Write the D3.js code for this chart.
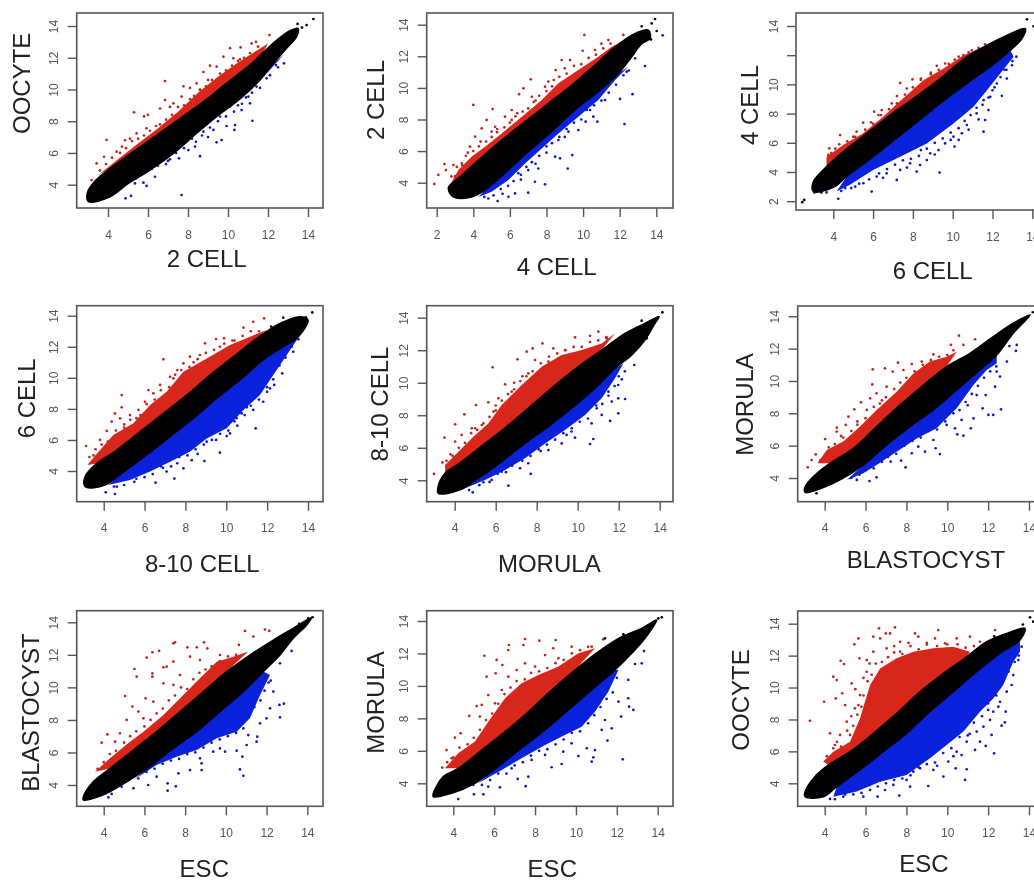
<!DOCTYPE html>
<html>
<head>
<meta charset="utf-8">
<script src="https://cdnjs.cloudflare.com/ajax/libs/d3/7.8.5/d3.min.js"></script>
<style>
html, body { margin: 0; padding: 0; background: #fff; overflow: hidden; }
svg { display: block; filter: blur(0.35px); }
text { font-family: "Liberation Sans", Arial, sans-serif; }
</style>
</head>
<body>
<div id="chart"></div>
<script>
// expression values, [x, y] on the log2 axes
// panel 1: OOCYTE vs 2 CELL
var p1BlackTop = [[2.97,3.5],[3.35,4.23],[4.1,5.03],[5.27,6.08],[6.43,7.13],[7.6,8.18],[8.77,9.23],[9.93,10.4],[11.1,11.55],[11.77,12.35],[12.43,13.1],[13.1,13.7],[13.5,13.85]];
var p1BlackBot = [[3.02,2.93],[4.1,3.24],[5.02,4.08],[6.1,4.92],[7.27,5.97],[8.43,7.24],[9.43,8.29],[10.6,9.4],[11.6,10.6],[12.27,11.65],[12.93,12.6],[13.43,13.33]];
var p1RedTop = [[3.5,4.6],[4.5,5.6],[5.5,6.6],[6.5,7.55],[7.5,8.6],[8.5,9.8],[9.5,10.8],[10.5,11.7],[11.5,12.5],[12,12.9]];
var p1BlueBot = [[6,4.8],[7,5.8],[8,6.8],[9,7.9],[10,8.9],[11,9.9],[12,11.1],[12.8,12.2]];
var p1Red = [[3.93,6.82],[5.3,8.56],[6.85,10.53],[5.8,8.3],[6,8.4],[6.4,7.7],[6.85,9.33],[6.6,8.8],[7.77,10.2],[8.77,11.1],[9.1,11.5],[10.1,12.6],[10.63,12.65],[11.18,12.9],[11.4,13],[12.07,13.43],[3.43,5.34],[3.8,5.76],[4.43,6.08],[4.85,6.8],[5.43,7.23],[5.93,7.55],[7.27,9.13],[8.43,10.39],[8.6,9.97],[9.77,12.07],[10.27,11.96],[9.43,11.44],[7.68,9.55],[3.18,4.29],[4.7,6.4],[5.1,6.9],[7.1,8.9],[8.1,10.1],[9,10.6],[10.6,11.9]];
var p1RedFuzz = [[3.6,4.9],[3.9,5.3],[4.2,5.7],[4.6,6],[4.9,6.3],[5.2,6.75],[5.5,6.9],[5.8,7.1],[6.1,7.4],[6.6,7.8],[6.9,8.1],[7.2,8.4],[7.5,8.9],[7.8,9],[8.1,9.4],[8.3,9.6],[8.6,10],[8.9,10.2],[9.2,10.6],[9.6,11],[9.9,11.2],[10.2,11.5],[10.5,11.8],[10.8,12],[11.1,12.3],[11.5,12.7]];
var p1Blue = [[7.68,3.35],[4.88,3.14],[5.15,3.29],[5.35,4.08],[5.77,4.13],[6.35,4.5],[5.93,3.92],[6.77,5.55],[7.55,5.66],[8.02,6.18],[8.6,5.8],[8.35,6.4],[9.43,6.67],[9.68,6.81],[10.35,7.76],[10.32,7.45],[11.22,8.03],[9.93,7.7],[9.27,7.45],[8.77,7.34],[7.77,6.6],[7.27,6.18],[10.68,8.7],[11.1,9.13],[11.43,10.18],[11.93,10.7],[12.4,11.54],[12.8,11.65],[11.77,10.9],[11.02,9.55],[10.1,8.92],[9.6,8.29],[6.9,5.3],[7.1,5.6],[8.4,6.7],[9,7],[10.7,9.1]];
var p1BlueFuzz = [[5.4,4.4],[5.8,4.8],[6.2,5],[6.5,5.2],[7,5.5],[7.4,6],[7.8,6.3],[8.2,6.9],[8.7,7.1],[9.1,7.6],[9.5,8],[9.9,8.3],[10.3,8.6],[10.5,9],[10.9,9.5],[11.2,9.8],[11.6,10.1],[12.1,10.9],[12.5,11.4]];
var p1Black = [[14.27,14.44],[13.48,14.13],[13.93,14.06],[13.7,13.9]];

// panel 2: 2 CELL vs 4 CELL
var p2BlackTop = [[2.64,3.7],[3.28,4.38],[4.28,5.43],[5.55,6.7],[6.83,7.86],[8.1,9.02],[9.38,10.18],[10.65,11.45],[11.75,12.6],[12.84,13.45],[13.57,13.66]];
var p2BlackBot = [[2.9,3.1],[3.9,3.1],[4.64,3.54],[5.73,4.6],[7,5.96],[8.28,7.23],[9.56,8.6],[10.83,9.76],[11.93,10.92],[12.66,11.97],[13.2,12.8],[13.66,13.13]];
var p2RedTop = [[2.73,3.85],[3.18,4.8],[3.9,5.65],[4.64,6.28],[5.55,7.12],[6.65,8.18],[7.74,9.23],[8.65,10.29],[9.74,11.13],[10.83,11.97],[11.56,12.6],[12.1,12.92]];
var p2BlueBot = [[4.28,3.1],[5,3.43],[5.92,4.17],[6.83,5.22],[7.74,6.17],[8.65,7.12],[9.74,8.18],[10.83,9.23],[11.75,10.5],[12.47,11.34]];
var p2Red = [[1.87,3.92],[2.09,4.49],[2.42,5.18],[2.5,4.8],[2.91,5.12],[3.37,5.22],[3.82,6.28],[4,8.92],[5.06,8.66],[4.73,7.97],[4.46,7.44],[4.1,6.91],[5,7.23],[5.73,8.18],[6.1,8.6],[6.5,9.6],[7.14,10.54],[6.74,9.97],[7.2,9.44],[7.92,10.08],[8.5,11.13],[8.83,11.76],[9.29,11.76],[10.07,13.35],[9.98,12.35],[10.65,12.4],[11,12.8],[11.38,13.03],[12.2,13.35],[9,11.24],[8.1,10.4],[6.1,7.97],[5.19,7.54],[3,4.4],[3.6,5.7],[4.4,6.6],[5.3,7.2],[6.4,8.4],[7.4,9.2],[8.4,10.5]];
var p2RedFuzz = [[2.8,4.4],[3.1,5],[3.4,5.1],[3.7,5.9],[4,6],[4.3,6.3],[4.7,6.6],[5,6.9],[5.3,7.4],[5.7,7.5],[6,7.8],[6.3,8.2],[6.7,8.5],[7,8.7],[7.3,9.1],[7.6,9.5],[8,9.8],[8.3,10.1],[8.7,10.7],[9.1,10.9],[9.5,11.4],[9.9,11.5],[10.3,11.9],[10.7,12.1],[11.1,12.5],[11.5,12.8]];
var p2Blue = [[5.33,2.84],[4.82,3],[5.92,3.11],[6.28,3.32],[7,3.37],[7.92,3.9],[7.37,4.06],[6.46,4.6],[7,4.8],[7.55,4.9],[8.47,5.65],[8.74,5.54],[9.16,4.9],[9.41,5.75],[8.65,6.7],[9.2,7.23],[9.74,7.33],[10.14,7.86],[10.56,8.18],[10.78,7.86],[10.38,8.6],[11.2,9.23],[12.02,9.3],[12.7,9.6],[12.26,7.71],[13.38,11.38],[12.38,11.03],[12.84,11.87],[14.35,13.33],[5.6,3.3],[6.6,4.2],[7.4,5.2],[8,5.9],[9,6.9]];
var p2BlueFuzz = [[4.6,3.1],[5.1,3.2],[5.5,3.6],[5.9,3.8],[6.2,4.1],[6.6,4.5],[6.9,5],[7.2,5.3],[7.6,5.7],[8,6.3],[8.3,6.5],[8.7,6.9],[9.1,7.4],[9.5,7.8],[9.9,8],[10.2,8.6],[10.6,8.9],[11,9.2],[11.4,9.7],[11.8,10.2],[12.2,10.8],[12.5,11.1]];
var p2Black = [[13.93,14.36],[14.02,13.6],[13.2,13.9],[13.75,14.08],[13.71,13.07],[13.5,13.6]];

// panel 3: 4 CELL vs 6 CELL
var p3BlackTop = [[3,3.34],[3.66,4.37],[4.5,5.4],[5.68,6.65],[6.85,7.9],[8.03,9.04],[9.37,10.4],[10.7,11.89],[11.89,12.8],[12.9,13.48],[13.65,13.82]];
var p3BlackBot = [[3,2.66],[4.08,3],[4.67,3.69],[5.68,4.71],[6.85,5.96],[8.03,7.22],[9.37,8.7],[10.7,10.06],[11.89,11.2],[12.9,12.34],[13.48,13.14]];
var p3RedTop = [[3.66,5.05],[4.5,5.85],[5.5,6.65],[6.5,7.79],[7.5,9.04],[8.53,10.29],[9.54,11.09],[10.54,12],[11.55,12.57]];
var p3BlueBot = [[4.17,2.66],[4.84,3.12],[6,4.14],[7.36,5.05],[8.7,5.96],[10.04,7.33],[11.05,8.47],[11.72,9.6],[12.39,10.75],[13.06,11.89]];
var p3Red = [[3.8,5.62],[4.34,6.53],[3.75,5.17],[5.17,6.76],[5.5,7.38],[6.05,8.13],[6.43,8.24],[7.36,10.1],[7.98,10.34],[6.94,8.7],[7.69,9.72],[9.2,11.27],[9.62,11.43],[10.54,12],[11.63,12.75],[10.96,12.34],[6.27,7.9],[5,6.42],[4.1,5.6],[5.9,7.4],[7.2,9.2],[8.4,10.4],[8.9,10.8],[10.1,11.7]];
var p3RedFuzz = [[3.9,5.3],[4.3,5.9],[4.7,6.1],[5.1,6.4],[5.6,6.9],[6,7.3],[6.4,7.9],[6.8,8.3],[7.2,8.7],[7.6,9.3],[8,9.8],[8.4,10.3],[8.9,10.7],[9.3,11],[9.8,11.4],[10.3,11.9],[10.8,12.2],[11.3,12.5]];
var p3Blue = [[4.25,2.16],[3.66,2.6],[5.93,2.66],[7.19,3.46],[9.34,3.96],[8.19,4.03],[8.36,4.48],[5.51,3.23],[6.18,3.69],[6.68,3.91],[7.36,4.14],[7.86,4.6],[8.7,4.82],[8.87,5.28],[9.29,5.5],[9.62,5.96],[10.09,5.74],[10.46,6.65],[10.04,6.42],[10.71,7.22],[11.55,6.76],[11.63,7.56],[11.8,8.24],[11.2,8.01],[11.55,8.92],[11.89,9.15],[12.47,9.22],[12.22,10.06],[12.72,10.4],[12.98,11.31],[4.6,2.9],[5.1,3],[6.5,3.6],[7.7,4.3],[8.3,5.1],[9.1,5.2],[9.9,6.2],[10.3,6.2],[10.8,6.9],[11.3,7.6],[12,9.6],[12.6,11],[13.2,11.9]];
var p3BlueFuzz = [[4.4,2.7],[4.9,2.9],[5.3,3.2],[5.8,3.5],[6.3,3.9],[6.7,4.2],[7.1,4.5],[7.5,4.8],[7.9,4.9],[8.4,5.5],[8.7,5.6],[9.1,6],[9.5,6.3],[9.9,6.7],[10.3,7],[10.6,7.5],[10.9,7.9],[11.2,8.4],[11.5,8.6],[11.8,9.1],[12.1,9.8],[12.4,10.5],[12.7,11],[13,11.6]];
var p3Black = [[2.54,2.09],[2.44,1.93],[13.73,14.46],[14.07,13.98],[3.05,2.6],[3.4,2.6]];

// panel 4: 6 CELL vs 8-10 CELL
var p4BlackTop = [[3.09,3.64],[3.66,4.49],[4.64,5.35],[5.78,6.53],[6.92,7.71],[8.06,8.89],[9.2,10.18],[10.35,11.36],[11.49,12.54],[12.63,13.5],[13.6,13.94]];
var p4BlackBot = [[3.09,2.99],[4.07,3.1],[5,3.96],[6.1,5.03],[7.25,6.21],[8.39,7.39],[9.53,8.68],[10.67,9.86],[11.81,11.15],[12.79,12],[13.45,12.54],[14,13.72]];
var p4RedTop = [[3.2,4.39],[3.82,5.35],[4.47,6.32],[5.45,7.07],[6.27,8.25],[7.08,9.1],[7.9,10.39],[9.04,11.25],[10.18,12.11],[11.16,12.65],[11.98,13.08]];
var p4BlueBot = [[4.23,3.1],[5.29,3.42],[6.27,3.96],[7.25,4.6],[8.22,5.24],[9.04,6.1],[10.02,6.75],[10.84,7.93],[11.65,8.89],[12.3,10.18],[12.96,11.47],[13.45,12.43]];
var p4Red = [[3.14,5.61],[4.88,8.89],[4.88,8.1],[4.55,7.71],[4.8,7.39],[4.15,6.58],[3.82,6],[4.39,7.18],[6.92,11.19],[6.19,9.21],[6.43,9],[5.7,7.93],[6.02,8.46],[7.25,10.07],[7.41,9.97],[8.22,11.36],[8.71,11.47],[8.96,12.22],[9.5,12.5],[9.89,12.54],[10.84,13.23],[11.32,13.61],[11.85,13.83],[12.38,13.29],[9.69,12],[7.9,10.93],[6.76,9.54],[5.29,7.6],[3.5,5],[5,7],[5.6,7.4],[7.6,10.5],[8.4,11],[10.4,12.4]];
var p4RedFuzz = [[3.3,4.9],[3.6,5.4],[3.9,5.7],[4.2,5.9],[4.6,6.6],[5,6.8],[5.3,7.3],[5.8,7.6],[6.1,8.3],[6.5,8.6],[6.8,9.2],[7.2,9.4],[7.5,10.2],[7.8,10.5],[8.2,10.7],[8.6,11.2],[9,11.6],[9.4,11.8],[9.9,12.2],[10.3,12.4],[10.8,12.7],[11.2,13],[11.6,13]];
var p4Blue = [[4.1,2.63],[4.55,2.52],[4.64,2.99],[6.54,3.25],[7.46,3.51],[8.93,4.64],[9.69,5.18],[7.9,4.17],[7.08,3.96],[8.31,4.7],[9.04,5.89],[10.02,6.25],[10.18,6.42],[10.54,6.92],[11.44,6.75],[9.37,6.64],[10.75,7.71],[11.32,7.93],[11.81,8.46],[12.35,9.54],[12.74,10.29],[12.14,9.32],[13.53,12.48],[13.28,11.68],[5.6,3.5],[6.9,4.2],[7.6,4.5],[8.6,5.1],[9.5,6],[10.4,7.2],[11,8.1],[12,9.1]];
var p4BlueFuzz = [[4.5,3],[5,3.1],[5.5,3.3],[6,3.6],[6.4,3.8],[6.8,4.3],[7.3,4.3],[7.7,4.9],[8.1,5],[8.5,5.4],[8.9,5.7],[9.3,6],[9.7,6.4],[10.1,6.6],[10.5,7.4],[10.9,7.6],[11.2,8.2],[11.6,8.6],[12,9.4],[12.3,9.9],[12.6,10.8],[12.9,11.3],[13.2,12]];
var p4Black = [[14.21,14.21],[12.79,13.87],[13.9,13.9],[12.2,13.3]];

// panel 5: 8-10 CELL vs MORULA
var p5BlackTop = [[3.2,3.67],[3.53,4.43],[4.34,5.15],[5.48,6.27],[6.62,7.4],[7.76,8.63],[8.9,9.86],[10.03,10.99],[11.17,12.01],[12.31,13.04],[13.28,13.65],[13.97,14.06]];
var p5BlackBot = [[3.2,3.2],[4.26,3.41],[5.15,4.12],[6.29,5.15],[7.43,6.27],[8.57,7.3],[9.71,8.43],[10.85,9.66],[11.82,10.89],[12.63,11.7],[13.28,12.63],[13.77,13.65]];
var p5RedTop = [[3.53,4.94],[4.18,5.76],[4.91,6.68],[5.64,7.5],[6.29,8.63],[7.27,9.86],[8.24,10.99],[9.22,11.7],[10.2,12.01],[11.17,12.42],[11.82,13.04]];
var p5BlueBot = [[4.5,3.51],[5.48,4.02],[6.46,4.64],[7.43,5.35],[8.41,6.27],[9.38,7.09],[10.36,8.02],[11.17,9.04],[11.82,10.27],[12.23,11.19]];
var p5Red = [[2.99,4.39],[3.5,6.62],[4.02,7.44],[4.47,8.06],[4.34,6.79],[5.04,8.63],[4.02,6.38],[4.83,7.2],[5.32,7.4],[5.64,8.8],[5.85,10.95],[5.89,8.22],[6.13,9.04],[6.46,9.9],[7.06,11.44],[6.78,9.45],[7.51,11.91],[7.8,12.11],[8.28,12.42],[7.92,11.4],[7.59,10.58],[8.81,12.11],[9.38,12.01],[9.87,12.79],[10.6,12.89],[11.01,13.14],[11.41,12.73],[9.06,11.5],[8.08,10.47],[8.57,11.3],[3.4,5.1],[3.8,5.6],[5,7.2],[6,8.6],[6.9,10],[7.3,10.4]];
var p5RedFuzz = [[3.6,5.2],[3.9,5.5],[4.2,6],[4.5,6.3],[4.8,6.9],[5.1,7.1],[5.4,7.5],[5.7,7.9],[6,8.3],[6.3,8.9],[6.6,9.3],[6.9,9.6],[7.2,10.1],[7.5,10.4],[7.8,10.7],[8.2,11.2],[8.6,11.6],[9,11.8],[9.4,12],[9.8,12.2],[10.2,12.2],[10.6,12.5],[11,12.6],[11.4,12.8]];
var p5Blue = [[4.88,3.26],[6.62,3.67],[7.71,4.39],[7.19,4.74],[6.29,4.53],[5.8,4.02],[5.4,3.88],[7.59,5.05],[8.57,5.86],[9.22,6.27],[9.87,6.62],[10.6,6.23],[10.76,6.54],[9.46,6.79],[9.71,7.2],[10.68,7.5],[11.58,7.65],[11.98,8.12],[11.17,8.02],[10.93,8.43],[11.66,8.84],[11.98,9.04],[12.31,9],[12.76,11.09],[12.15,10.21],[11.98,9.86],[11.5,9.45],[6.8,4.9],[8.2,5.8]];
var p5BlueFuzz = [[4.7,3.4],[5.2,3.7],[5.7,3.9],[6.1,4.4],[6.5,4.5],[6.9,5.1],[7.3,5.2],[7.7,5.5],[8.1,5.9],[8.5,6.2],[8.9,6.5],[9.3,6.9],[9.7,7],[10.1,7.6],[10.5,7.8],[10.9,8.6],[11.2,8.7],[11.5,9.2],[11.8,9.8],[12,10.4],[12.3,10.7]];
var p5Black = [[14.13,14.33],[13.12,13.82],[13.37,12.73],[13.9,14]];

// panel 6: MORULA vs BLASTOCYST
var p6BlackTop = [[3.04,3.46],[3.53,4.19],[4.26,4.91],[5.4,5.84],[6.54,7.18],[7.69,8.52],[8.83,9.75],[9.97,10.89],[11.11,11.71],[12.25,12.74],[13.23,13.57],[14.05,14.08]];
var p6BlackBot = [[3.04,3.11],[3.61,3.26],[4.75,3.88],[5.89,4.8],[7.03,6.04],[8.18,7.18],[9.32,8.21],[10.46,9.44],[11.6,10.68],[12.42,11.61],[13.23,12.95]];
var p6RedTop = [[3.64,4.91],[4.1,5.73],[4.91,6.25],[5.73,7.18],[6.54,8.21],[7.52,9.34],[8.34,10.47],[9.15,11.2],[9.97,11.5],[10.46,11.81]];
var p6BlueBot = [[5.08,3.88],[5.89,4.29],[6.54,4.8],[7.52,5.63],[8.5,6.45],[9.48,7.07],[10.46,8.31],[11.28,9.75],[11.93,10.68],[12.42,11.09]];
var p6Red = [[3.17,4.66],[3.36,5.11],[3.56,5.46],[4.02,6.41],[4.59,7.11],[4.59,6.87],[5.03,7.28],[5.45,8.25],[5.16,7.79],[5.78,8.68],[6.06,8.21],[6.22,8.93],[6.35,10.72],[6.33,9.79],[6.54,9.24],[6.95,10.78],[7.33,10.58],[7.59,11.13],[7.03,9.65],[7.85,10.68],[8.26,11.05],[8.75,11.2],[9.32,11.65],[10.18,12.23],[10.57,12.8],[10.79,12.23],[11.36,12.58],[8.58,10.16],[4.8,6.6],[5.6,7.5],[6.8,8.8]];
var p6RedFuzz = [[3.8,5.1],[4.2,5.9],[4.5,6.1],[4.9,6.5],[5.3,6.9],[5.6,7.3],[6,7.7],[6.4,8.4],[6.7,8.6],[7,9],[7.4,9.5],[7.7,9.9],[8,10.2],[8.4,10.6],[8.8,11],[9.2,11.3],[9.6,11.5],[10,11.6],[10.3,11.9]];
var p6Blue = [[6.19,3.81],[6.54,4.04],[5.57,3.88],[7.96,4.66],[7.74,5.07],[7.23,5.01],[8.26,5.53],[8.58,5.94],[8.91,5.63],[9.64,5.48],[9.43,5.84],[9.32,6.35],[10.49,6.7],[10.79,6.62],[11.15,7.07],[11.28,7.69],[10.38,7.07],[10.7,7.59],[9.97,7.28],[11.73,8.31],[12.01,7.9],[12.25,7.9],[12.63,8.25],[11.88,9.13],[12.34,9.65],[11.44,9.13],[12.42,10.58],[12.58,10.27],[12.92,11.2],[13.4,12.23],[13.36,11.86],[13.04,12.16],[10.1,8],[11,8.5]];
var p6BlueFuzz = [[5.3,4],[5.7,4.2],[6,4.5],[6.4,4.6],[6.8,5],[7.1,5.3],[7.5,5.5],[7.9,6],[8.3,6.3],[8.7,6.5],[9.1,6.9],[9.5,7],[9.9,7.5],[10.3,8],[10.6,8.2],[10.9,8.7],[11.2,9.2],[11.5,9.7],[11.8,10.2],[12.1,10.6],[12.4,10.9]];
var p6Black = [[14.18,14.25],[3.6,3.05]];

// panel 7: BLASTOCYST vs ESC
var p7BlackTop = [[3,3.28],[3.41,4.1],[4.31,5.02],[5.46,6.15],[6.6,7.28],[7.75,8.51],[8.89,9.74],[10.04,10.97],[11.18,11.99],[12.33,12.91],[13.31,13.63],[14.21,14.29]];
var p7BlackBot = [[3,3.08],[3.98,3.39],[5.13,4.2],[6.28,5.13],[7.42,6.25],[8.57,7.28],[9.71,8.51],[10.86,9.74],[11.84,10.97],[12.66,11.99],[13.31,13.02],[13.97,13.84]];
var p7RedTop = [[3.57,4.82],[4.31,5.64],[5.29,6.66],[5.95,7.28],[6.93,8.3],[7.91,9.53],[8.73,10.56],[9.55,11.58],[10.37,11.89],[11.1,12.2]];
var p7BlueBot = [[5.46,4.31],[6.6,5.23],[7.58,5.74],[8.57,6.15],[9.55,6.87],[10.53,7.28],[11.18,8.1],[11.68,9.53],[12.17,10.76]];
var p7Red = [[3.9,6.6],[4.18,7.11],[5.05,9.47],[5.51,11.13],[5.62,10.66],[5.41,8.82],[5.13,8],[6.11,11.83],[6.39,12.16],[6.72,12.24],[6.39,10.86],[6.39,10.66],[6.93,11.23],[7.09,11.27],[7.42,12.71],[7.5,12.77],[7.42,11.58],[8.11,12.46],[8.57,12.46],[8.93,12.77],[9.09,12.4],[8.24,11.89],[8.73,11.68],[7.75,10.76],[6.93,10.25],[7.42,10.15],[6.06,9.33],[6.44,9.12],[5.7,8.51],[5.95,8.1],[4.8,7.18],[4.56,6.66],[10.94,13.47],[11.35,13.12],[11.92,13.55],[12.13,13.47],[10.64,12.61],[9.71,11.99]];
var p7RedFuzz = [[3.7,5],[4,5.4],[4.3,5.9],[4.6,6.1],[5,6.6],[5.3,7],[5.6,7.3],[6,7.6],[6.3,8],[6.6,8.4],[6.9,8.7],[7.2,9.2],[7.5,9.5],[7.8,10],[8.1,9.9],[8.4,10.5],[8.7,10.9],[9,11.1],[9.3,11.3],[9.7,11.6],[10.1,11.9],[10.5,12]];
var p7Blue = [[4.23,3.24],[4.39,3.45],[4.88,3.9],[5.46,3.8],[6.19,4],[6.6,4.51],[7.14,3.65],[7.54,3.92],[7.14,4.1],[7.67,4.72],[8.24,4.92],[8.81,5.33],[8.81,4.92],[10.69,4.96],[10.86,4.57],[10.81,5.74],[9.71,6.25],[9.96,6.05],[10.53,6.11],[11.02,6.46],[11.51,6.66],[11.54,6.97],[8.73,5.64],[9.38,6.05],[11.68,7.79],[12,8.1],[12.66,8.16],[12.63,8.92],[12.85,9],[12.33,9.74],[12.2,10.41],[12.66,11.48],[13.23,12.24],[11.1,7.07],[10.86,7.48],[12.17,8.71]];
var p7BlueFuzz = [[5.7,4.4],[6.1,4.8],[6.5,5],[6.9,5.3],[7.3,5.5],[7.7,5.6],[8.1,5.9],[8.5,6],[8.9,6.3],[9.3,6.6],[9.7,6.8],[10.1,7],[10.5,7.2],[10.8,7.9],[11.1,8.3],[11.4,8.8],[11.7,9.2],[11.9,9.8],[12.1,10.3]];
var p7Black = [[14.26,14.31],[14.05,14.25],[13.6,13.9]];

// panel 8: MORULA vs ESC
var p8BlackTop = [[3.02,3.38],[3.51,4.41],[4.24,4.92],[5.39,6.05],[6.53,7.18],[7.67,8.41],[8.81,9.75],[9.95,10.98],[11.1,12.11],[12.24,13.03],[13.22,13.55],[13.95,14.06]];
var p8BlackBot = [[3.02,3.18],[3.92,3.38],[5.06,4],[6.2,5.03],[7.34,6.16],[8.49,7.29],[9.63,8.52],[10.77,9.75],[11.91,10.98],[12.73,12.01],[13.38,12.93]];
var p8RedTop = [[3.59,4.92],[4.24,5.85],[5.06,6.57],[5.71,7.8],[6.53,9.24],[7.34,10.16],[8.16,10.67],[9.14,11.19],[10.12,12.01],[10.93,12.32]];
var p8BlueBot = [[5.22,4],[6.37,4.82],[7.34,5.54],[8.49,6.36],[9.46,6.98],[10.28,7.49],[10.93,8.41],[11.59,9.65],[12.08,10.98]];
var p8Red = [[3.46,4.97],[3.67,6.05],[3.92,5.54],[4.08,6.81],[4.36,7.08],[4.78,8.15],[5.14,8.76],[5.3,8.11],[5.52,11.86],[5.63,10.57],[6.07,10.78],[6.12,11.6],[6.4,11.29],[6.72,12.52],[6.69,12.21],[7.51,12.89],[7.43,12.52],[8.21,12.79],[9.01,12.83],[8.89,12.32],[9.79,12.42],[8.49,11.9],[7.51,11.39],[7.1,10.98],[6.69,10.57],[6.37,9.75],[5.71,9.44],[6.04,8.93],[5.39,8.83],[11.34,12.87],[10.77,12.42],[9.14,11.7],[8,11.19]];
var p8RedFuzz = [[3.7,5.3],[4,5.6],[4.3,6.2],[4.7,6.4],[5,6.8],[5.3,7.3],[5.6,7.9],[5.9,8.3],[6.2,8.9],[6.5,9.5],[6.8,9.9],[7.1,10.3],[7.5,10.4],[7.8,10.8],[8.2,10.9],[8.6,11.1],[9,11.4],[9.4,11.6],[9.8,12],[10.2,12.2],[10.6,12.4]];
var p8Blue = [[4.24,3.03],[5.01,3.32],[5.47,3.32],[4.98,3.9],[5.71,3.8],[6.28,3.75],[7.15,4.27],[7.67,4.41],[7.54,3.82],[8.81,4.99],[9.3,5.19],[10.77,5.33],[10.85,5.6],[10.12,5.68],[10.53,6.16],[10.93,6.05],[12.29,5.48],[11.54,6.63],[9.38,5.95],[9.79,6.46],[8.49,5.75],[7.83,5.44],[6.85,4.92],[11.75,7.39],[12.21,8.11],[12.81,8.52],[12.56,9.24],[12.6,8.72],[12.08,9.03],[12.56,10.37],[13.22,11.39],[13.33,12.15],[12.89,11.35],[11.42,7.9],[11.26,7.29]];
var p8BlueFuzz = [[5.4,3.9],[5.8,4.2],[6.2,4.6],[6.6,4.6],[7,5.1],[7.4,5.3],[7.8,5.7],[8.2,6],[8.6,6.1],[9,6.4],[9.4,6.7],[9.8,7.1],[10.2,7.2],[10.6,7.7],[10.9,8.2],[11.2,8.7],[11.5,9.2],[11.8,9.6],[12,10.5]];
var p8Black = [[14.2,14.23],[14.03,14.16],[12.32,13.18],[11.42,12.93]];

// panel 9: OOCYTE vs ESC
var p9BlackTop = [[3.04,3.48],[3.53,4.42],[4.18,5.15],[5.24,5.98],[6.38,7.13],[7.52,8.38],[8.67,9.74],[9.81,10.89],[10.95,11.93],[11.93,12.87],[12.91,13.39],[13.8,13.71]];
var p9BlackBot = [[3.04,3.16],[3.93,3.16],[4.59,3.79],[5.73,4.84],[6.87,5.98],[8.01,7.13],[9.15,8.49],[10.3,9.74],[11.44,10.99],[12.58,12.14],[13.56,12.98]];
var p9RedTop = [[3.93,5.36],[4.42,5.98],[5.24,6.61],[5.73,8.07],[6.22,10.16],[6.71,11.2],[7.52,11.83],[8.34,12.25],[9.32,12.46],[10.3,12.56],[11.11,12.25]];
var p9BlueBot = [[4.42,3.16],[5.57,3.48],[6.71,4.1],[8.01,4.52],[9.15,5.57],[9.97,6.4],[10.79,7.24],[11.6,8.49],[12.25,9.32],[12.74,10.16],[13.23,11.62],[13.56,12.25]];
var p9Red = [[3.28,7.92],[3.97,9.11],[4.26,7.13],[4.42,10.68],[4.59,10.47],[4.54,9.32],[4.78,11.68],[4.95,11.47],[4.86,9.64],[5,8.9],[5.32,10.26],[5.45,12.71],[5.65,13.08],[5.7,11.83],[6.38,13.19],[6.66,13.71],[6.71,13.08],[6.99,13.39],[7.44,13.77],[7.2,13.39],[7.69,12.87],[8.42,13.39],[8.58,13.19],[9.56,13.6],[9.4,13.08],[9.89,12.77],[10.46,13.08],[11.11,13.19],[12.34,13.6],[11.6,12.87],[6.06,11.72],[6.06,10.99],[5.73,9.53],[5.48,8.7],[5.08,7.86],[4.75,7.03],[4.42,6.19],[3.61,4.52],[5.24,7.03],[5.65,8.9],[7.03,12.46],[7.69,12.25],[6.38,12.25],[6.2,11.5],[5.9,10.6],[5.5,9.9],[5.3,8.2],[4.6,6.6],[7.4,12.6],[8.1,12.8],[9,12.8]];
var p9RedFuzz = [[4.1,5.7],[4.5,6.4],[4.8,6.3],[5.1,7.3],[5.4,7.6],[5.6,8.3],[5.8,8.8],[5.9,9.5],[6.1,10.4],[6.3,10.8],[6.5,11.5],[6.8,11.6],[7.1,11.9],[7.4,12.2],[7.8,12.1],[8.2,12.6],[8.6,12.4],[9,12.7],[9.5,12.6],[10,12.7],[10.5,12.7],[10.9,12.5],[11.3,12.6]];
var p9Blue = [[4.26,3.02],[4.91,3.16],[5.89,3.16],[6.59,3.16],[7.65,3.23],[6.95,3.58],[8.18,3.79],[9.07,3.83],[10.87,4.21],[10.95,4.88],[10.41,4.94],[9.81,4.42],[10.05,5.36],[10.7,5.77],[9.32,4.84],[8.67,4.94],[8.01,4.21],[7.36,3.9],[12.29,5.88],[11.88,6.34],[11.36,6.09],[11.6,6.61],[10.95,6.61],[12.17,7.03],[12.66,7.61],[12.82,7.82],[12.09,7.97],[11.77,7.55],[12.86,8.49],[12.58,9.11],[12.91,9.74],[13.15,10.16],[13.23,10.78],[13.48,11.72],[13.64,12.56],[12.25,8.49],[11.44,7.24],[10.46,5.98],[8.34,4.73],[6.22,3.58],[9.5,5.1],[10.3,5.7],[11.1,7.1],[12,8.6],[12.5,8.8]];
var p9BlueFuzz = [[4.5,3],[5,3.3],[5.4,3.3],[5.8,3.4],[6.2,3.9],[6.6,3.8],[7,4],[7.4,4.2],[7.8,4.3],[8.2,4.5],[8.6,5],[9,5.2],[9.4,5.3],[9.8,5.9],[10.2,6.2],[10.6,6.9],[11,7],[11.3,7.8],[11.7,8.2],[12,9],[12.4,9.5],[12.7,10.4],[13,11],[13.3,11.6],[13.5,12]];
var p9Black = [[14.05,14.4],[14.21,14.13],[13.7,13.95],[12.3,13.2]];

var xLabels = ['2 CELL','4 CELL','6 CELL','8-10 CELL','MORULA','BLASTOCYST','ESC','ESC','ESC'];
var yLabels = ['OOCYTE','2 CELL','4 CELL','6 CELL','8-10 CELL','MORULA','BLASTOCYST','MORULA','OOCYTE'];
var xTicks = [[4,6,8,10,12,14],[2,4,6,8,10,12,14],[4,6,8,10,12,14],[4,6,8,10,12,14],[4,6,8,10,12,14],[4,6,8,10,12,14],[4,6,8,10,12,14],[4,6,8,10,12,14],[4,6,8,10,12,14]];
var yTicks = [[4,6,8,10,12,14],[4,6,8,10,12,14],[2,4,6,8,10,12,14],[4,6,8,10,12,14],[4,6,8,10,12,14],[4,6,8,10,12,14],[4,6,8,10,12,14],[4,6,8,10,12,14],[4,6,8,10,12,14]];

// pixel layout of each panel: frame, where ticks 4 and 14 land, title positions
var layout = [
  {l:76.7, r:323,  t:13,    b:208,   x4:108,   x14:308,    y4:184.7, y14:26,    xtx:206.7, xty:266.7, ytx:30,    yty:83.3},
  {l:426.7,r:673,  t:13,    b:208,   x4:473.3, x14:656.3,  y4:182.7, y14:24.7,  xtx:556.7, xty:275,   ytx:384.3, yty:100},
  {l:796,  r:1043, t:13,    b:210,   x4:833.3, x14:1032.3, y4:172,   y14:26,    xtx:932.7, xty:279.3, ytx:758.3, yty:105},
  {l:76.7, r:323,  t:305.7, b:501.7, x4:103.7, x14:308,    y4:471,   y14:315.7, xtx:202.3, xty:571.7, ytx:35,    yty:398.3},
  {l:426.7,r:673,  t:305.7, b:501.7, x4:454.7, x14:659.7,  y4:480.3, y14:317.7, xtx:549.3, xty:571.7, ytx:388.3, yty:404},
  {l:797.7,r:1043, t:306,   b:501.7, x4:824.7, x14:1029,   y4:478,   y14:316.3, xtx:926,   xty:567.7, ytx:753.3, yty:404.5},
  {l:76.7, r:323,  t:610.7, b:806.3, x4:103.7, x14:307.3,  y4:785,   y14:622.3, xtx:204.3, xty:876.7, ytx:39.3,  yty:712.5},
  {l:426.7,r:673,  t:610.7, b:806.3, x4:453.3, x14:657.7,  y4:783.3, y14:621,   xtx:552.3, xty:876.7, ytx:384.3, yty:702.5},
  {l:797.7,r:1043, t:611,   b:806.3, x4:824.7, x14:1029,   y4:783.3, y14:623.7, xtx:924,   xty:872.3, ytx:749.3, yty:700}
];

var panels = [
  {blackTop:p1BlackTop, blackBot:p1BlackBot, redTop:p1RedTop, blueBot:p1BlueBot, red:p1Red.concat(p1RedFuzz), blue:p1Blue.concat(p1BlueFuzz), black:p1Black},
  {blackTop:p2BlackTop, blackBot:p2BlackBot, redTop:p2RedTop, blueBot:p2BlueBot, red:p2Red.concat(p2RedFuzz), blue:p2Blue.concat(p2BlueFuzz), black:p2Black},
  {blackTop:p3BlackTop, blackBot:p3BlackBot, redTop:p3RedTop, blueBot:p3BlueBot, red:p3Red.concat(p3RedFuzz), blue:p3Blue.concat(p3BlueFuzz), black:p3Black},
  {blackTop:p4BlackTop, blackBot:p4BlackBot, redTop:p4RedTop, blueBot:p4BlueBot, red:p4Red.concat(p4RedFuzz), blue:p4Blue.concat(p4BlueFuzz), black:p4Black},
  {blackTop:p5BlackTop, blackBot:p5BlackBot, redTop:p5RedTop, blueBot:p5BlueBot, red:p5Red.concat(p5RedFuzz), blue:p5Blue.concat(p5BlueFuzz), black:p5Black},
  {blackTop:p6BlackTop, blackBot:p6BlackBot, redTop:p6RedTop, blueBot:p6BlueBot, red:p6Red.concat(p6RedFuzz), blue:p6Blue.concat(p6BlueFuzz), black:p6Black},
  {blackTop:p7BlackTop, blackBot:p7BlackBot, redTop:p7RedTop, blueBot:p7BlueBot, red:p7Red.concat(p7RedFuzz), blue:p7Blue.concat(p7BlueFuzz), black:p7Black},
  {blackTop:p8BlackTop, blackBot:p8BlackBot, redTop:p8RedTop, blueBot:p8BlueBot, red:p8Red.concat(p8RedFuzz), blue:p8Blue.concat(p8BlueFuzz), black:p8Black},
  {blackTop:p9BlackTop, blackBot:p9BlackBot, redTop:p9RedTop, blueBot:p9BlueBot, red:p9Red.concat(p9RedFuzz), blue:p9Blue.concat(p9BlueFuzz), black:p9Black}
];

var RED = '#d9261a', BLUE = '#0b22dc', DOT_RED = '#c2231c', DOT_BLUE = '#1216c0', FRAME = '#555555';

var svg = d3.select('#chart').append('svg').attr('width', 1034).attr('height', 880);

// dense cloud between an outer edge and the matching edge of the black band
function band(edge, inner) {
  var lo = edge[0][0], hi = edge[edge.length - 1][0];
  var part = inner.filter(function (d) { return d[0] >= lo && d[0] <= hi; });
  return edge.concat(part.reverse());
}

function draw_panel(i) {
  var p = panels[i], box = layout[i];
  var x = d3.scaleLinear().domain([4, 14]).range([box.x4, box.x14]);
  var y = d3.scaleLinear().domain([4, 14]).range([box.y4, box.y14]);
  var g = svg.append('g');
  var line = d3.line().x(function (d) { return x(d[0]); }).y(function (d) { return y(d[1]); });
  var smooth = d3.line().x(function (d) { return x(d[0]); }).y(function (d) { return y(d[1]); })
    .curve(d3.curveCatmullRomClosed.alpha(0.5));

  g.append('path').attr('d', line(band(p.redTop, p.blackTop)) + 'Z').attr('fill', RED);
  g.append('path').attr('d', line(band(p.blueBot, p.blackBot)) + 'Z').attr('fill', BLUE);

  [[p.red, DOT_RED], [p.blue, DOT_BLUE]].forEach(function (s) {
    g.append('g').selectAll('circle').data(s[0]).enter().append('circle')
      .attr('cx', function (d) { return x(d[0]); })
      .attr('cy', function (d) { return y(d[1]); })
      .attr('r', 1.35)
      .attr('fill', s[1]);
  });

  g.append('path').attr('d', smooth(p.blackTop.concat(p.blackBot.slice().reverse())))
    .attr('fill', '#000').attr('stroke', '#000').attr('stroke-width', 1.5).attr('stroke-linejoin', 'round');
  g.append('g').selectAll('circle').data(p.black).enter().append('circle')
    .attr('cx', function (d) { return x(d[0]); })
    .attr('cy', function (d) { return y(d[1]); })
    .attr('r', 1.35)
    .attr('fill', '#000');

  g.append('rect')
    .attr('x', box.l).attr('y', box.t)
    .attr('width', box.r - box.l).attr('height', box.b - box.t)
    .attr('fill', 'none').attr('stroke', FRAME).attr('stroke-width', 1.6);

  var xAxis = g.append('g').attr('transform', 'translate(0,' + box.b + ')')
    .call(d3.axisBottom(x).tickValues(xTicks[i]).tickSize(9).tickPadding(13));
  var yAxis = g.append('g').attr('transform', 'translate(' + box.l + ',0)')
    .call(d3.axisLeft(y).tickValues(yTicks[i]).tickSize(9).tickFormat(function (d) {
      // the 12 label is dropped by R in this panel
      return (i == 2 && d == 12) ? '' : d;
    }));
  xAxis.select('.domain').remove();
  yAxis.select('.domain').remove();
  [xAxis, yAxis].forEach(function (a) {
    a.selectAll('line').attr('stroke', FRAME).attr('stroke-width', 1.4);
    a.selectAll('text').attr('fill', '#555').style('font-size', '12px');
  });
  yAxis.selectAll('text')
    .attr('x', null).attr('dy', null)
    .attr('text-anchor', 'middle')
    .attr('transform', 'translate(-18.5,0) rotate(-90)');

  g.append('text').attr('x', box.xtx).attr('y', box.xty)
    .attr('text-anchor', 'middle').attr('fill', '#222').style('font-size', '24px')
    .text(xLabels[i]);
  g.append('text').attr('transform', 'translate(' + box.ytx + ',' + box.yty + ') rotate(-90)')
    .attr('text-anchor', 'middle').attr('fill', '#222').style('font-size', '24px')
    .text(yLabels[i]);
}

panels.forEach(function (d, i) { draw_panel(i); });
</script>
</body>
</html>
